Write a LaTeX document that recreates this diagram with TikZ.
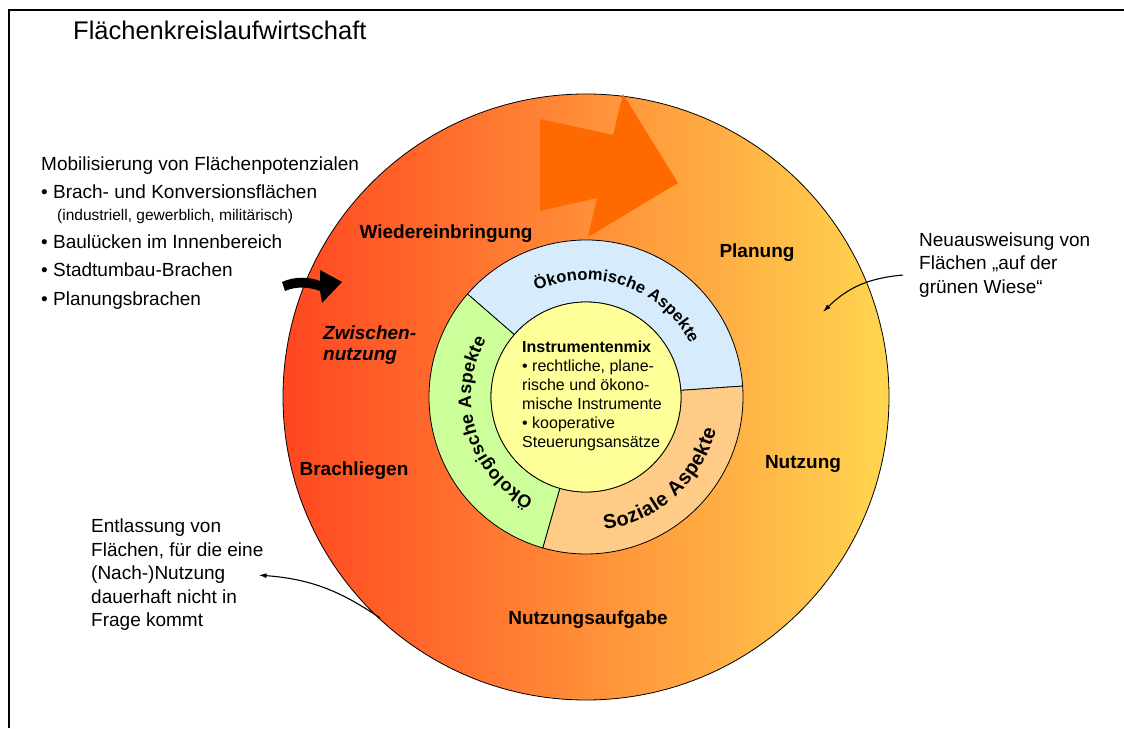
\documentclass[tikz,border=0pt]{standalone}
\usepackage{fontspec}
\setmainfont{Liberation Sans}
\usetikzlibrary{positioning,decorations.text,arrows.meta}

\definecolor{kreisrot}{RGB}{255,70,32}
\definecolor{kreismitte}{RGB}{255,160,64}
\definecolor{kreisgelb}{RGB}{255,214,80}
\definecolor{pfeilorange}{RGB}{255,106,0}
\definecolor{oekoblau}{RGB}{214,236,252}
\definecolor{oekogruen}{RGB}{204,255,153}
\definecolor{sozialorange}{RGB}{255,204,136}
\definecolor{mixgelb}{RGB}{255,255,153}

\tikzstyle{phase} = [font=\fontsize{19}{22}\selectfont\bfseries, inner sep=0pt, anchor=base]
\tikzstyle{listitem} = [font=\fontsize{19}{22}\selectfont, inner sep=0pt, text height=14pt, text depth=4pt, anchor=north west]
\tikzstyle{listsmall} = [font=\fontsize{15.5}{17}\selectfont, inner sep=0pt, text height=11pt, text depth=3pt]
\tikzstyle{note} = [font=\fontsize{19}{23.5}\selectfont, align=left, inner sep=0pt, anchor=north west]
\tikzstyle{sector} = [draw, line width=0.8pt]
\tikzstyle{pointer} = [->, line width=1.1pt]
\tikzstyle{bogentext} = [decorate, decoration={text along path, text align={fit to path}}]

\begin{document}
\begin{tikzpicture}[x=1pt, y=1pt, >={Latex[length=8pt,width=5pt]}]
        \useasboundingbox (0,0) rectangle (1124,728);
        \draw[line width=2.5pt] (9,0) -- (9,718) -- (1124,718);
        \node[font=\fontsize{25.5}{28}\selectfont, anchor=base west, inner sep=0pt] (titel) at (73,688) {Flächenkreislaufwirtschaft};

        % outer ring
        \node[circle, draw, line width=0.8pt, minimum size=606pt, inner sep=0pt, left color=kreisrot, middle color=kreismitte, right color=kreisgelb] (kreis) at (586,331) {};
        \fill[pfeilorange] (540,609) -- (613,593) -- (623,634) -- (678,545) -- (588,491) -- (597,530) -- (540,517) -- cycle;
        \fill (282,446) .. controls (295,452) and (310,451) .. (320,447) -- (320,458) -- (342,446) -- (322,425) -- (320,437) .. controls (310,441) and (296,442) .. (285,437) -- cycle;

        % aspects
        \begin{scope}[shift={(586,331)}]
        \filldraw[sector, fill=oekoblau] (4:157) arc[start angle=4, end angle=139, radius=157] -- (139:95) arc[start angle=139, end angle=4, radius=95] -- cycle;
        \filldraw[sector, fill=sozialorange] (-106:157) arc[start angle=-106, end angle=4, radius=157] -- (4:95) arc[start angle=4, end angle=-106, radius=95] -- cycle;
        \filldraw[sector, fill=oekogruen] (139:157) arc[start angle=139, end angle=254, radius=157] -- (254:95) arc[start angle=254, end angle=139, radius=95] -- cycle;
        \node[circle, draw, line width=0.8pt, fill=mixgelb, minimum size=190pt, inner sep=0pt] (mix) at (0,0) {};
        \path[bogentext, decoration={text={|\fontsize{16.5}{16.5}\selectfont\bfseries|Ökonomische Aspekte}}] (115:117) arc[start angle=115, end angle=27, radius=117];
        \path[bogentext, decoration={text={|\fontsize{20}{20}\selectfont\bfseries|Soziale Aspekte}}] (-82:134) arc[start angle=-82, end angle=-14, radius=134];
        \path[bogentext, decoration={text={|\fontsize{18}{18}\selectfont\bfseries|Ökologische Aspekte}}] (243:115) arc[start angle=243, end angle=150, radius=115];
        \end{scope}
        \node[note, font=\fontsize{16}{19}\selectfont] (mixtext) at (522,387) {\textbf{Instrumentenmix}\\\textbullet{} rechtliche, plane-\\rische und ökono-\\mische Instrumente\\\textbullet{} kooperative\\Steuerungsansätze};

        % phases
        \node[phase] (wieder) at (446,489) {Wiedereinbringung};
        \node[phase] (planung) at (757,470) {Planung};
        \node[phase, font=\fontsize{19}{21}\selectfont\bfseries\itshape, align=left, anchor=north west] (zwischen) at (323,402) {Zwischen-\\nutzung};
        \node[phase] (brach) at (354,252) {Brachliegen};
        \node[phase] (nutzung) at (803,259) {Nutzung};
        \node[phase] (aufgabe) at (588,103) {Nutzungsaufgabe};

        % left list
        \node[listitem] (mobil) at (41,572) {Mobilisierung von Flächenpotenzialen};
        \node[listitem, below=10pt of mobil.south west, anchor=north west] (brachfl) {\textbullet{} Brach- und Konversionsflächen};
        \node[listsmall, below=7pt of brachfl.south west, anchor=north west, xshift=16pt] (klammer) {(industriell, gewerblich, militärisch)};
        \node[listitem, below=10pt of klammer.south west, anchor=north west, xshift=-16pt] (luecken) {\textbullet{} Baulücken im Innenbereich};
        \node[listitem, below=10pt of luecken.south west, anchor=north west] (umbau) {\textbullet{} Stadtumbau-Brachen};
        \node[listitem, below=10pt of umbau.south west, anchor=north west] (planbr) {\textbullet{} Planungsbrachen};

        % notes
        \node[note] (neu) at (919,495.5) {Neuausweisung von\\Flächen „auf der\\grünen Wiese“};
        \node[note] (entlass) at (91,209) {Entlassung von\\Flächen, für die eine\\(Nach-)Nutzung\\dauerhaft nicht in\\Frage kommt};
        \coordinate (neuziel) at (823,416);
        \coordinate (entlassquelle) at (380,110);
        \draw[pointer] ([shift={(-16,-10)}]neu.west) to[bend right=20] (neuziel);
        \draw[pointer] (entlassquelle) to[bend right=15] ([xshift=-5pt]entlass.east);
\end{tikzpicture}
\end{document}
